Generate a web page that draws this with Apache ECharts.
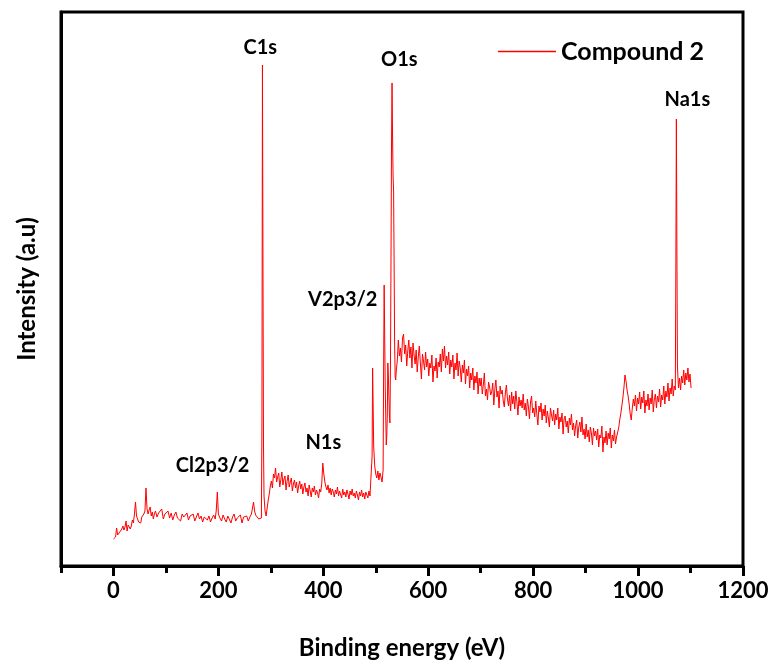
<!DOCTYPE html>
<html>
<head>
<meta charset="utf-8">
<script src="https://cdn.jsdelivr.net/npm/echarts@6/dist/echarts.min.js"></script>
<style>html,body{margin:0;padding:0;background:#fff;}#c{width:777px;height:666px;}</style>
</head>
<body>
<div id="c"></div>
<script>
// Binding energy (eV)
var energy = [
0,2,4,6,8,10,12,14,16,18,20,22,24,26,28,30,32,34,36,38,40,42,44,46,48,50,52,54,56,58,60,62,64,66,68,70,72,74,76,78,80,
83,86,89,92,95,98,101,104,107,110,113,116,119,122,125,128,131,134,137,140,143,146,149,152,155,158,161,164,167,170,173,176,179,182,185,188,191,194,
196,198,200,
203,206,209,212,215,218,221,224,227,230,233,236,239,242,245,248,251,254,257,260,263,
265,267,269,271,274,277,280,282,283,284,285,286,287,289,291,
293,295,297,299,301,303,305,307,309,311,313,315,317,319,321,323,325,327,329,331,333,335,337,339,341,343,345,347,349,351,353,355,357,359,361,363,365,367,369,371,373,375,377,379,381,383,385,387,389,391,393,395,397,
399,401,403,405,407,409,411,413,415,417,419,421,423,425,427,429,431,433,435,437,439,441,443,445,447,449,451,453,455,457,459,461,463,465,467,469,471,473,475,477,479,481,483,485,487,489,491,
493,494,495,496,498,500,502,504,506,508,510,512,514,515,516,517,518,520,521,522,523,524,525,526,527,528,529,530,531,532,533,534,535,536,537,538,539,
541,543,545,547,549,551,553,555,557,559,
561,563,565,567,569,571,573,575,577,579,
581,583,585,587,589,591,593,595,597,599,
601,603,605,607,609,611,613,615,617,619,
621,623,625,627,629,631,633,635,637,639,
641,643,645,647,649,651,653,655,657,659,
661,663,665,667,669,671,673,675,677,679,
681,683,685,687,689,691,693,695,697,699,
701,703,705,707,709,711,713,715,717,719,
721,723,725,727,729,731,733,735,737,739,
741,743,745,747,749,751,753,755,757,759,
761,763,765,767,769,771,773,775,777,779,
781,783,785,787,789,791,793,795,797,799,
801,803,805,807,809,811,813,815,817,819,
821,823,825,827,829,831,833,835,837,839,
841,843,845,847,849,851,853,855,857,859,
861,863,865,867,869,871,873,875,877,879,
881,883,885,887,889,891,893,895,897,899,
901,903,905,907,909,911,913,915,917,919,
921,923,925,927,929,931,933,935,937,939,
941,943,945,947,949,951,953,955,957,959,
961,963,965,967,969,971,973,975,977,979,
981,983,985,987,989,991,993,995,997,999,
1001,1003,1005,1007,1009,1011,1013,1015,1017,1019,
1021,1023,1025,1027,1029,1031,1033,1035,1037,1039,
1041,1043,1045,1047,1049,1051,1053,1055,1057,1059,
1061,1063,1065,1067,1069,1071,
1072,1073,1074,1075,1077,1079,1081,1083,1085,1087,1089,1091,1093,1095,1097,1099,1101
];
// Intensity (a.u.)
var intensity = [
27,28,29,38,31,30,34,33,37,40,36,39,45,35,41,43,37,40,46,43,52,64,50,47,44,46,43,49,47,52,55,78,57,52,56,59,50,54,47,52,55,
49,53,51,57,47,52,50,55,48,53,46,51,54,48,50,45,52,49,47,53,46,50,48,52,45,49,53,47,50,44,49,51,46,50,44,48,51,47,
56,74,52,
48,45,51,47,44,50,48,43,49,52,45,48,46,51,43,49,47,50,45,49,52,
58,64,55,51,49,47,45,48,140,501,300,120,70,55,50,
58,66,72,80,85,78,92,88,98,84,89,93,79,86,94,81,87,90,76,85,91,79,84,88,75,82,86,78,84,73,80,85,77,82,72,79,83,74,78,70,81,75,69,78,74,80,71,76,73,68,77,74,82,
103,92,84,79,76,81,73,78,71,77,74,69,76,72,79,70,75,73,68,77,71,74,69,76,72,67,75,71,77,70,73,68,75,71,66,74,70,76,69,73,67,74,71,68,75,70,72,
110,198,160,120,100,92,88,95,86,93,89,84,96,200,281,230,180,121,130,150,203,190,170,150,143,200,300,420,483,430,390,375,300,220,189,186,195,
205,226,210,218,204,228,232,212,221,200,
215,226,208,219,198,223,211,202,216,194,
209,220,203,187,212,205,196,214,199,207,
190,203,198,211,184,200,195,208,188,204,
199,212,194,217,205,220,198,210,201,214,
192,206,199,211,187,203,196,213,190,205,
198,184,201,193,206,182,197,190,200,178,
193,186,198,176,190,183,194,172,188,180,
188,172,181,193,170,177,166,184,179,171,
174,183,161,177,186,169,175,158,180,172,
176,165,159,173,181,167,160,171,155,174,
162,170,157,175,164,151,169,160,166,158,
172,156,163,150,167,159,147,164,170,153,
158,149,165,152,141,160,154,163,146,157,
150,161,143,155,148,139,158,151,145,156,
141,152,146,158,137,149,144,153,132,147,
150,139,145,133,148,141,152,136,143,130,
140,146,128,139,144,134,149,131,137,127,
142,129,136,124,139,133,121,138,130,135,
126,137,119,131,128,140,114,129,123,135,
121,133,127,138,118,131,125,136,122,129,
127,138,146,152,160,168,178,191,185,176,
170,162,152,146,158,167,160,171,155,168,
162,174,157,169,163,175,153,166,160,172,
156,168,162,176,154,167,172,158,170,164,
177,159,171,166,180,162,175,169,183,165,
178,172,187,170,180,176,
300,447,320,200,178,188,176,190,183,196,181,193,186,198,184,192,178
];

var peakNames = ['C1s','O1s','Na1s','V2p3/2','N1s','Cl2p3/2'];
var peakLabelE = [280,545,1094,437,400,189];
var peakLabelH = [518,506,466,266,123,100];

var majorTicks = [0,200,400,600,800,1000,1200];
var minorTicks = [-100,100,300,500,700,900,1100];

var lineData = energy.map(function(e,i){return [e,intensity[i]];});
var labelData = peakNames.map(function(n,i){return {value:[peakLabelE[i],peakLabelH[i]],name:n};});

var FONT = 'Lato';
var chart = echarts.init(document.getElementById('c'), null, {renderer:'canvas'});
chart.setOption({
  animation:false,
  backgroundColor:'#fff',
  grid:{left:61,right:34,top:12,bottom:100,show:true,borderColor:'#000',borderWidth:3,containLabel:false},
  legend:{
    data:['Compound 2'],left:493,top:34,itemWidth:58,itemHeight:1.5,icon:'rect',
    textStyle:{fontFamily:FONT,fontWeight:'bold',fontSize:25,color:'#000'}
  },
  xAxis:[{
    type:'value',min:-100,max:1200,position:'bottom',
    name:'Binding energy (eV)',nameLocation:'middle',nameGap:70,
    nameTextStyle:{fontFamily:FONT,fontWeight:'bold',fontSize:24,color:'#000'},
    axisLine:{show:true,onZero:false,lineStyle:{color:'#000',width:3}},
    axisTick:{show:true,length:10,lineStyle:{color:'#000',width:3},customValues:majorTicks},
    axisLabel:{show:true,margin:14,customValues:majorTicks,formatter:function(v){return String(v);},fontFamily:FONT,fontWeight:'bold',fontSize:22,color:'#000'},
    splitLine:{show:false}
  },{
    type:'value',min:-100,max:1200,position:'bottom',
    axisLine:{show:false,onZero:false},
    axisTick:{show:true,length:7,lineStyle:{color:'#000',width:3},customValues:minorTicks},
    axisLabel:{show:false},
    splitLine:{show:false}
  }],
  yAxis:{
    type:'value',min:0,max:554,
    name:'Intensity (a.u)',nameLocation:'middle',nameGap:22,
    nameTextStyle:{fontFamily:FONT,fontWeight:'bold',fontSize:24,color:'#000'},
    axisLine:{show:true,onZero:false,lineStyle:{color:'#000',width:3}},
    axisTick:{show:false},axisLabel:{show:false},splitLine:{show:false}
  },
  series:[{
    name:'Compound 2',type:'line',data:lineData,symbol:'none',
    lineStyle:{color:'#ff0000',width:1},itemStyle:{color:'#ff0000'},
    xAxisIndex:0
  },{
    name:'labels',type:'scatter',data:labelData,symbol:'circle',symbolSize:1,
    itemStyle:{color:'#ffffff',opacity:1},silent:true,
    label:{show:true,position:'inside',formatter:'{b}',fontFamily:FONT,fontWeight:'bold',fontSize:20,color:'#000000',textBorderWidth:0,opacity:1}
  }]
});
</script>
</body>
</html>
